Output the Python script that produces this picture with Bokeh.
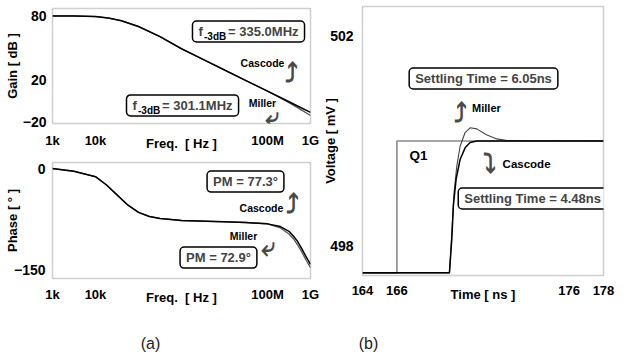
from bokeh.plotting import figure
from bokeh.models import Range1d, FixedTicker, Label
from bokeh.layouts import column, row
from bokeh.embed import file_html
from bokeh.resources import INLINE

# ---------------- data ----------------
freq_ticks = [1e3, 1e4, 1e8, 1e9]
freq_tick_labels = ["1k", "10k", "100M", "1G"]

gain_freq_hz = [1e3, 3.16e3, 1e4, 2e4, 3.98e4, 1e5, 3.16e5, 1e6, 3.16e6,
                1e7, 3.16e7, 1e8, 2e8, 3.16e8, 5e8, 1e9]
gain_cascode_db = [80, 80, 79.4, 78, 75.5, 70, 60.5, 49, 39,
                   29, 19, 9, 3, -1, -5, -11]
gain_miller_db = [80, 80, 79.4, 78, 75.5, 70, 60.5, 49, 39,
                  29, 19, 9, 2.6, -1.8, -6.5, -14]
gain_ticks = [80, 20, -20]

phase_freq_hz = [1e3, 3.16e3, 1e4, 1.78e4, 3.16e4, 5.62e4, 1e5, 1.78e5, 3.16e5,
                 1e6, 1e7, 3.16e7, 1e8, 2e8, 3.16e8, 4e8, 5e8, 6.3e8, 7.94e8, 1e9]
phase_cascode_deg = [0, -4, -12, -24, -39, -54, -65, -71, -74,
                     -77, -79, -80, -82, -86, -93, -100, -108, -119, -131, -142]
phase_miller_deg = [0, -4, -12, -24, -39, -54, -65, -71, -74,
                    -77, -79, -80, -82, -88, -97, -104, -113, -124, -136, -147]
phase_ticks = [0, -150]

q1_time_ns = [164, 166, 166, 178]
q1_mv = [497.5, 497.5, 500.0, 500.0]
miller_time_ns = [164, 169.05, 169.19, 169.32, 169.48, 169.67, 169.96, 170.25,
                  170.64, 171.2, 171.8, 172.4, 178]
miller_mv = [497.5, 497.5, 498.28, 499.03, 499.53, 499.9, 500.16, 500.25,
             500.23, 500.12, 500.04, 500.01, 500.0]
cascode_time_ns = [164, 169.05, 169.19, 169.28, 169.44, 169.67, 169.96, 170.25,
                   170.64, 178]
cascode_mv = [497.5, 497.5, 498.15, 498.78, 499.28, 499.65, 499.87, 499.97,
              500.0, 500.0]
time_ticks = [164, 166, 176, 178]
volt_ticks = [502, 498]

FONT = "Liberation Sans"
ARROW_FONT = "DejaVu Sans"
NB = "\u00a0"


def make_fig(w, h, x_type, xr, yr, borders):
    p = figure(width=w, height=h, x_axis_type=x_type, x_range=xr, y_range=yr,
               toolbar_location=None, output_backend="svg",
               min_border_left=borders[0], min_border_right=borders[1],
               min_border_top=borders[2], min_border_bottom=borders[3])
    p.xgrid.visible = False
    p.ygrid.visible = False
    p.outline_line_color = "#a0a0a0"
    p.outline_line_dash = "1 1"
    p.outline_line_width = 1.5
    for ax in p.axis:
        ax.axis_line_color = None
        ax.major_tick_line_color = None
        ax.minor_tick_line_color = None
        ax.major_tick_out = 0
        ax.major_tick_in = 0
        ax.minor_tick_out = 0
        ax.minor_tick_in = 0
        ax.major_label_text_font = FONT
        ax.major_label_text_font_style = "bold"
        ax.major_label_text_font_size = "13px"
        ax.major_label_text_color = "black"
        ax.axis_label_text_font = FONT
        ax.axis_label_text_font_style = "bold"
        ax.axis_label_text_font_size = "13px"
        ax.axis_label_text_color = "black"
    for ax in p.yaxis:
        ax.major_label_text_font_size = "14px"
    return p


def box_label(p, x, y, text, align="center", size="13px"):
    p.add_layout(Label(x=x, y=y, text=text, text_font=FONT, text_font_style="bold",
                       text_font_size=size, text_align=align, text_baseline="middle",
                       background_fill_color="white", border_line_color="black",
                       border_line_width=1.5, border_radius=4,
                       padding=dict(left=6, right=6, top=3, bottom=3)))


def text_label(p, x, y, text, size="11px", align="center"):
    p.add_layout(Label(x=x, y=y, text=text, text_font=FONT, text_font_style="bold",
                       text_font_size=size, text_align=align, text_baseline="middle",
                       text_color="black"))


def arrow_label(p, x, y, glyph, size="26px"):
    p.add_layout(Label(x=x, y=y, text=glyph, text_font=ARROW_FONT,
                       text_font_style="bold", text_font_size=size,
                       text_align="center", text_baseline="middle",
                       text_color="#4a4a4a"))


# ---------------- gain ----------------
g = make_fig(320, 157, "log", Range1d(1e3, 1e9), Range1d(-21.5, 87), (52, 10, 8, 34))
g.line(gain_freq_hz, gain_miller_db, line_color="#555555", line_width=1.3)
g.line(gain_freq_hz, gain_cascode_db, line_color="black", line_width=1.5)
g.xaxis.ticker = FixedTicker(ticks=freq_ticks)
g.xaxis.major_label_overrides = {t: l for t, l in zip(freq_ticks, freq_tick_labels)}
g.yaxis.ticker = FixedTicker(ticks=gain_ticks)
g.xaxis.axis_label = "Freq." + NB + NB + "[" + NB + "Hz" + NB + "]"
g.yaxis.axis_label = "Gain [ dB ]"
g.xaxis.major_label_standoff = 9
g.xaxis.axis_label_standoff = -15
g.yaxis.major_label_standoff = 6
g.yaxis.axis_label_standoff = 0

box_label(g, 1.80e6, 65.3, "f" + NB * 7 + "= 335.0MHz", align="left")
text_label(g, 3.34e6, 60.6, "-3dB", size="10px", align="left")
box_label(g, 5.26e4, -4.5, "f" + NB * 7 + "= 301.1MHz", align="left")
text_label(g, 9.73e4, -9.2, "-3dB", size="10px", align="left")
text_label(g, 7.65e7, 36, "Cascode", size="10.5px")
text_label(g, 7.65e7, -1.7, "Miller", size="10.5px")
arrow_label(g, 3.61e8, 25.7, "\u2934")
arrow_label(g, 1.31e8, -14.9, "\u2936")

# ---------------- phase ----------------
ph = make_fig(320, 153, "log", Range1d(1e3, 1e9), Range1d(-163, 9), (52, 10, 5, 32))
ph.line(phase_freq_hz, phase_miller_deg, line_color="#555555", line_width=1.3)
ph.line(phase_freq_hz, phase_cascode_deg, line_color="black", line_width=1.5)
ph.xaxis.ticker = FixedTicker(ticks=freq_ticks)
ph.xaxis.major_label_overrides = {t: l for t, l in zip(freq_ticks, freq_tick_labels)}
ph.yaxis.ticker = FixedTicker(ticks=phase_ticks)
ph.xaxis.axis_label = "Freq." + NB + NB + "[" + NB + "Hz" + NB + "]"
ph.yaxis.axis_label = "Phase [ \u00b0 ]"
ph.xaxis.major_label_standoff = 8
ph.xaxis.axis_label_standoff = -15
ph.yaxis.major_label_standoff = 7
ph.yaxis.axis_label_standoff = -9

box_label(ph, 3.08e7, -19.2, "PM = 77.3\u00b0")
box_label(ph, 7.24e6, -131.9, "PM = 72.9\u00b0")
text_label(ph, 7.24e7, -59.2, "Cascode", size="10.5px")
text_label(ph, 2.77e7, -99.3, "Miller", size="10.5px")
arrow_label(ph, 3.81e8, -51.8, "\u2934")
arrow_label(ph, 1.05e8, -117, "\u2936")

# ---------------- transient ----------------
tm = make_fig(308, 310, "linear", Range1d(164, 178), Range1d(497.45, 502.55), (42, 25, 6, 35))
tm.line(q1_time_ns, q1_mv, line_color="#8a8a8a", line_width=1.6)
tm.line(miller_time_ns, miller_mv, line_color="#444444", line_width=1.1)
tm.line(cascode_time_ns, cascode_mv, line_color="black", line_width=1.5)
tm.xaxis.ticker = FixedTicker(ticks=time_ticks)
tm.yaxis.ticker = FixedTicker(ticks=volt_ticks)
tm.xaxis.axis_label = "Time [ ns ]"
tm.yaxis.axis_label = "Voltage [ mV ]"
tm.xaxis.major_label_standoff = 10
tm.xaxis.axis_label_standoff = -11
tm.yaxis.major_label_standoff = 9
tm.yaxis.axis_label_standoff = -11

box_label(tm, 171.03, 501.185, "Settling Time = 6.05ns")
box_label(tm, 173.88, 498.91, "Settling Time = 4.48ns")
text_label(tm, 171.2, 500.62, "Miller", size="11px")
text_label(tm, 173.53, 499.57, "Cascode", size="11.5px")
text_label(tm, 167.25, 499.725, "Q1", size="13.5px")
arrow_label(tm, 169.69, 500.54, "\u2934")
arrow_label(tm, 171.38, 499.59, "\u2935")

# ---------------- captions ----------------
cap = figure(width=628, height=48, x_range=Range1d(0, 628), y_range=Range1d(0, 48),
             toolbar_location=None, output_backend="svg",
             min_border_left=0, min_border_right=0, min_border_top=0, min_border_bottom=0)
cap.axis.visible = False
cap.xgrid.visible = False
cap.ygrid.visible = False
cap.outline_line_color = None
for cx, ct in [(150, "(a)"), (368, "(b)")]:
    cap.add_layout(Label(x=cx, y=15, text=ct, text_font=FONT, text_font_size="16px",
                         text_align="center", text_baseline="middle", text_color="#222222"))

layout = column(row(column(g, ph), tm), cap)
open("out.html", "w").write(file_html(layout, INLINE))
